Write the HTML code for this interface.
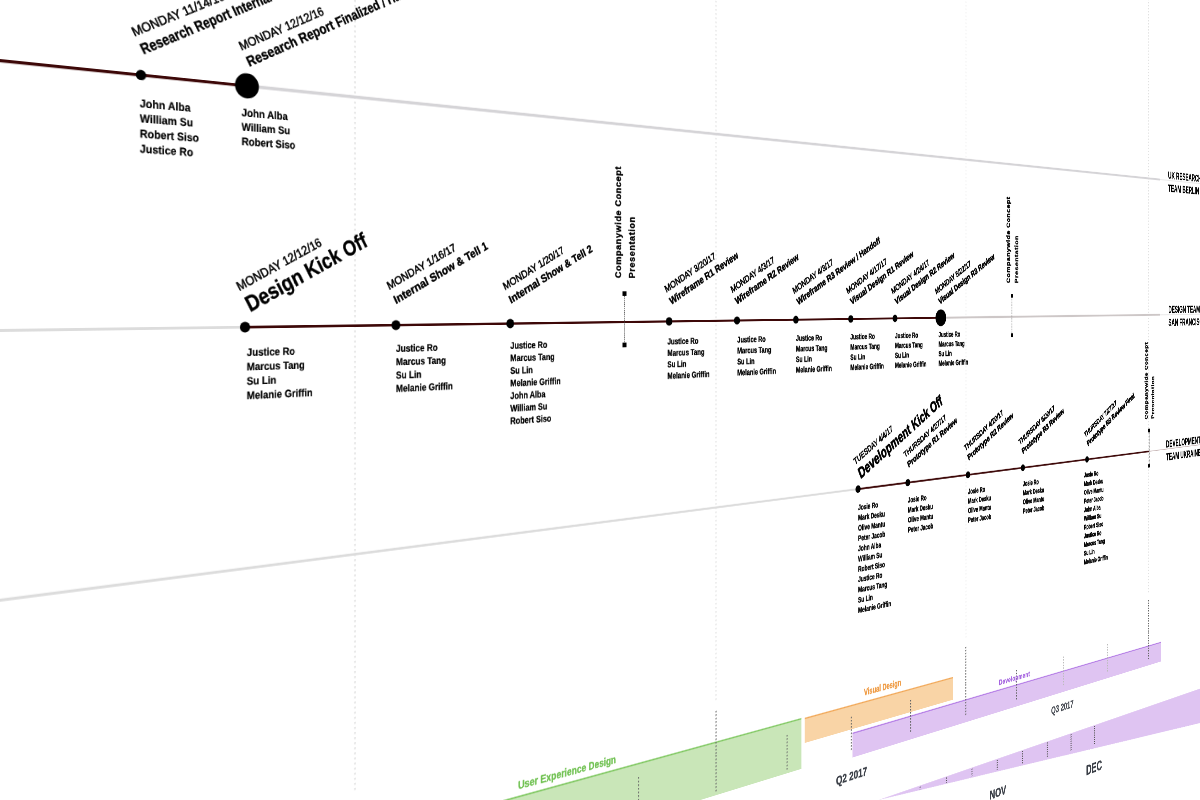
<!DOCTYPE html>
<html><head><meta charset="utf-8">
<style>
html,body{margin:0;padding:0;width:1200px;height:800px;overflow:hidden;background:#fff}
#plane{position:absolute;left:0;top:0;width:10px;height:10px;transform-origin:0 0;
transform:matrix3d(1.070000, 0.137604, 0, 0.00046022, 0, 1, 0, 0, 0, 0, 1, 0, 0, 0, 0, 1);}
svg{position:absolute;left:0;top:0;overflow:visible;font-family:"Liberation Sans",sans-serif}
</style></head><body>
<div id="plane">
<svg width="10" height="10">
<line x1="-185.4" y1="-600" x2="-185.4" y2="880" stroke="#d9d9d9" stroke-width="1.6" stroke-dasharray="2.5 3.5"/>
<line x1="391.6" y1="-600" x2="391.6" y2="880" stroke="#d9d9d9" stroke-width="1.6" stroke-dasharray="2.5 3.5"/>
<line x1="966.9" y1="-600" x2="966.9" y2="880" stroke="#d9d9d9" stroke-width="1.6" stroke-dasharray="2.5 3.5"/>
<line x1="1544.5" y1="-600" x2="1544.5" y2="880" stroke="#d9d9d9" stroke-width="1.6" stroke-dasharray="2.5 3.5"/>
<line x1="2121.5" y1="-600" x2="2121.5" y2="880" stroke="#d9d9d9" stroke-width="1.6" stroke-dasharray="2.5 3.5"/>
<line x1="-700.0" y1="60.6" x2="258.0" y2="60.6" stroke="#3d0808" stroke-width="3.2"/>
<line x1="258.0" y1="60.6" x2="2163.0" y2="60.6" stroke="#d5d4d7" stroke-width="3.6"/>
<line x1="2163.0" y1="60.6" x2="2600.0" y2="60.6" stroke="#e9e9e9" stroke-width="2.0"/>
<line x1="-700.0" y1="330.5" x2="256.0" y2="330.5" stroke="#dcdcdc" stroke-width="3.0"/>
<line x1="256.0" y1="330.5" x2="1477.0" y2="330.5" stroke="#3d0808" stroke-width="3.0"/>
<line x1="1477.0" y1="330.5" x2="2163.0" y2="330.5" stroke="#cdc7c7" stroke-width="3.5"/>
<line x1="2163.0" y1="330.5" x2="2600.0" y2="330.5" stroke="#e9e9e9" stroke-width="2.0"/>
<line x1="-700.0" y1="600.2" x2="1271.0" y2="600.2" stroke="#dcdcdc" stroke-width="3.0"/>
<line x1="1271.0" y1="600.2" x2="2123.0" y2="600.2" stroke="#3d0808" stroke-width="3.0"/>
<line x1="2123.0" y1="600.2" x2="2600.0" y2="600.2" stroke="#c9b8b8" stroke-width="1.5"/>
<circle cx="140.3" cy="60.6" r="5.5" fill="#000"/>
<circle cx="258.3" cy="60.6" r="14.0" fill="#000"/>
<circle cx="256.0" cy="330.5" r="6.0" fill="#000"/>
<circle cx="446.0" cy="330.5" r="6.0" fill="#000"/>
<circle cx="611.0" cy="330.5" r="6.0" fill="#000"/>
<circle cx="878.0" cy="330.5" r="6.0" fill="#000"/>
<circle cx="1008.5" cy="330.5" r="6.0" fill="#000"/>
<circle cx="1131.0" cy="330.5" r="6.0" fill="#000"/>
<circle cx="1254.0" cy="330.5" r="6.0" fill="#000"/>
<circle cx="1360.0" cy="330.5" r="6.0" fill="#000"/>
<circle cx="1477.0" cy="330.5" r="14.0" fill="#000"/>
<circle cx="1271.0" cy="600.2" r="6.0" fill="#000"/>
<circle cx="1392.0" cy="600.2" r="6.0" fill="#000"/>
<circle cx="1550.0" cy="600.2" r="6.0" fill="#000"/>
<circle cx="1707.0" cy="600.2" r="6.0" fill="#000"/>
<circle cx="1908.0" cy="600.2" r="6.0" fill="#000"/>
<text transform="translate(139.0 94.9) scale(0.940 1)" style="font-size:12.2px;font-weight:bold;fill:#000;stroke:#000;stroke-width:0.18px" text-anchor="start" >John Alba</text>
<text transform="translate(139.0 111.0) scale(0.940 1)" style="font-size:12.2px;font-weight:bold;fill:#000;stroke:#000;stroke-width:0.18px" text-anchor="start" >William Su</text>
<text transform="translate(139.0 127.1) scale(0.940 1)" style="font-size:12.2px;font-weight:bold;fill:#000;stroke:#000;stroke-width:0.18px" text-anchor="start" >Robert Siso</text>
<text transform="translate(139.0 143.2) scale(0.940 1)" style="font-size:12.2px;font-weight:bold;fill:#000;stroke:#000;stroke-width:0.18px" text-anchor="start" >Justice Ro</text>
<text transform="translate(252.0 94.9) scale(0.940 1)" style="font-size:12.2px;font-weight:bold;fill:#000;stroke:#000;stroke-width:0.21px" text-anchor="start" >John Alba</text>
<text transform="translate(252.0 111.0) scale(0.940 1)" style="font-size:12.2px;font-weight:bold;fill:#000;stroke:#000;stroke-width:0.21px" text-anchor="start" >William Su</text>
<text transform="translate(252.0 127.1) scale(0.940 1)" style="font-size:12.2px;font-weight:bold;fill:#000;stroke:#000;stroke-width:0.21px" text-anchor="start" >Robert Siso</text>
<text transform="translate(258.0 362.8) scale(0.940 1)" style="font-size:12.2px;font-weight:bold;fill:#000;stroke:#000;stroke-width:0.21px" text-anchor="start" >Justice Ro</text>
<text transform="translate(258.0 378.9) scale(0.940 1)" style="font-size:12.2px;font-weight:bold;fill:#000;stroke:#000;stroke-width:0.21px" text-anchor="start" >Marcus Tang</text>
<text transform="translate(258.0 395.0) scale(0.940 1)" style="font-size:12.2px;font-weight:bold;fill:#000;stroke:#000;stroke-width:0.21px" text-anchor="start" >Su Lin</text>
<text transform="translate(258.0 411.1) scale(0.940 1)" style="font-size:12.2px;font-weight:bold;fill:#000;stroke:#000;stroke-width:0.21px" text-anchor="start" >Melanie Griffin</text>
<text transform="translate(446.0 362.8) scale(0.940 1)" style="font-size:12.2px;font-weight:bold;fill:#000;stroke:#000;stroke-width:0.26px" text-anchor="start" >Justice Ro</text>
<text transform="translate(446.0 378.9) scale(0.940 1)" style="font-size:12.2px;font-weight:bold;fill:#000;stroke:#000;stroke-width:0.26px" text-anchor="start" >Marcus Tang</text>
<text transform="translate(446.0 395.0) scale(0.940 1)" style="font-size:12.2px;font-weight:bold;fill:#000;stroke:#000;stroke-width:0.26px" text-anchor="start" >Su Lin</text>
<text transform="translate(446.0 411.1) scale(0.940 1)" style="font-size:12.2px;font-weight:bold;fill:#000;stroke:#000;stroke-width:0.26px" text-anchor="start" >Melanie Griffin</text>
<text transform="translate(611.0 362.8) scale(0.940 1)" style="font-size:12.2px;font-weight:bold;fill:#000;stroke:#000;stroke-width:0.30px" text-anchor="start" >Justice Ro</text>
<text transform="translate(611.0 378.9) scale(0.940 1)" style="font-size:12.2px;font-weight:bold;fill:#000;stroke:#000;stroke-width:0.30px" text-anchor="start" >Marcus Tang</text>
<text transform="translate(611.0 395.0) scale(0.940 1)" style="font-size:12.2px;font-weight:bold;fill:#000;stroke:#000;stroke-width:0.30px" text-anchor="start" >Su Lin</text>
<text transform="translate(611.0 411.1) scale(0.940 1)" style="font-size:12.2px;font-weight:bold;fill:#000;stroke:#000;stroke-width:0.30px" text-anchor="start" >Melanie Griffin</text>
<text transform="translate(611.0 427.2) scale(0.940 1)" style="font-size:12.2px;font-weight:bold;fill:#000;stroke:#000;stroke-width:0.30px" text-anchor="start" >John Alba</text>
<text transform="translate(611.0 443.3) scale(0.940 1)" style="font-size:12.2px;font-weight:bold;fill:#000;stroke:#000;stroke-width:0.30px" text-anchor="start" >William Su</text>
<text transform="translate(611.0 459.4) scale(0.940 1)" style="font-size:12.2px;font-weight:bold;fill:#000;stroke:#000;stroke-width:0.30px" text-anchor="start" >Robert Siso</text>
<text transform="translate(875.0 362.8) scale(0.940 1)" style="font-size:12.2px;font-weight:bold;fill:#000;stroke:#000;stroke-width:0.38px" text-anchor="start" >Justice Ro</text>
<text transform="translate(875.0 378.9) scale(0.940 1)" style="font-size:12.2px;font-weight:bold;fill:#000;stroke:#000;stroke-width:0.38px" text-anchor="start" >Marcus Tang</text>
<text transform="translate(875.0 395.0) scale(0.940 1)" style="font-size:12.2px;font-weight:bold;fill:#000;stroke:#000;stroke-width:0.38px" text-anchor="start" >Su Lin</text>
<text transform="translate(875.0 411.1) scale(0.940 1)" style="font-size:12.2px;font-weight:bold;fill:#000;stroke:#000;stroke-width:0.38px" text-anchor="start" >Melanie Griffin</text>
<text transform="translate(1009.0 362.8) scale(0.940 1)" style="font-size:12.2px;font-weight:bold;fill:#000;stroke:#000;stroke-width:0.42px" text-anchor="start" >Justice Ro</text>
<text transform="translate(1009.0 378.9) scale(0.940 1)" style="font-size:12.2px;font-weight:bold;fill:#000;stroke:#000;stroke-width:0.42px" text-anchor="start" >Marcus Tang</text>
<text transform="translate(1009.0 395.0) scale(0.940 1)" style="font-size:12.2px;font-weight:bold;fill:#000;stroke:#000;stroke-width:0.42px" text-anchor="start" >Su Lin</text>
<text transform="translate(1009.0 411.1) scale(0.940 1)" style="font-size:12.2px;font-weight:bold;fill:#000;stroke:#000;stroke-width:0.42px" text-anchor="start" >Melanie Griffin</text>
<text transform="translate(1131.0 362.8) scale(0.940 1)" style="font-size:12.2px;font-weight:bold;fill:#000;stroke:#000;stroke-width:0.46px" text-anchor="start" >Justice Ro</text>
<text transform="translate(1131.0 378.9) scale(0.940 1)" style="font-size:12.2px;font-weight:bold;fill:#000;stroke:#000;stroke-width:0.46px" text-anchor="start" >Marcus Tang</text>
<text transform="translate(1131.0 395.0) scale(0.940 1)" style="font-size:12.2px;font-weight:bold;fill:#000;stroke:#000;stroke-width:0.46px" text-anchor="start" >Su Lin</text>
<text transform="translate(1131.0 411.1) scale(0.940 1)" style="font-size:12.2px;font-weight:bold;fill:#000;stroke:#000;stroke-width:0.46px" text-anchor="start" >Melanie Griffin</text>
<text transform="translate(1253.0 362.8) scale(0.940 1)" style="font-size:12.2px;font-weight:bold;fill:#000;stroke:#000;stroke-width:0.51px" text-anchor="start" >Justice Ro</text>
<text transform="translate(1253.0 378.9) scale(0.940 1)" style="font-size:12.2px;font-weight:bold;fill:#000;stroke:#000;stroke-width:0.51px" text-anchor="start" >Marcus Tang</text>
<text transform="translate(1253.0 395.0) scale(0.940 1)" style="font-size:12.2px;font-weight:bold;fill:#000;stroke:#000;stroke-width:0.51px" text-anchor="start" >Su Lin</text>
<text transform="translate(1253.0 411.1) scale(0.940 1)" style="font-size:12.2px;font-weight:bold;fill:#000;stroke:#000;stroke-width:0.51px" text-anchor="start" >Melanie Griffin</text>
<text transform="translate(1360.0 362.8) scale(0.940 1)" style="font-size:12.2px;font-weight:bold;fill:#000;stroke:#000;stroke-width:0.54px" text-anchor="start" >Justice Ro</text>
<text transform="translate(1360.0 378.9) scale(0.940 1)" style="font-size:12.2px;font-weight:bold;fill:#000;stroke:#000;stroke-width:0.54px" text-anchor="start" >Marcus Tang</text>
<text transform="translate(1360.0 395.0) scale(0.940 1)" style="font-size:12.2px;font-weight:bold;fill:#000;stroke:#000;stroke-width:0.54px" text-anchor="start" >Su Lin</text>
<text transform="translate(1360.0 411.1) scale(0.940 1)" style="font-size:12.2px;font-weight:bold;fill:#000;stroke:#000;stroke-width:0.54px" text-anchor="start" >Melanie Griffin</text>
<text transform="translate(1471.0 362.8) scale(0.940 1)" style="font-size:12.2px;font-weight:bold;fill:#000;stroke:#000;stroke-width:0.58px" text-anchor="start" >Justice Ro</text>
<text transform="translate(1471.0 378.9) scale(0.940 1)" style="font-size:12.2px;font-weight:bold;fill:#000;stroke:#000;stroke-width:0.58px" text-anchor="start" >Marcus Tang</text>
<text transform="translate(1471.0 395.0) scale(0.940 1)" style="font-size:12.2px;font-weight:bold;fill:#000;stroke:#000;stroke-width:0.58px" text-anchor="start" >Su Lin</text>
<text transform="translate(1471.0 411.1) scale(0.940 1)" style="font-size:12.2px;font-weight:bold;fill:#000;stroke:#000;stroke-width:0.58px" text-anchor="start" >Melanie Griffin</text>
<text transform="translate(1271.0 633.7) scale(0.940 1)" style="font-size:12.2px;font-weight:bold;fill:#000;stroke:#000;stroke-width:0.51px" text-anchor="start" >Josie Ro</text>
<text transform="translate(1271.0 650.0) scale(0.940 1)" style="font-size:12.2px;font-weight:bold;fill:#000;stroke:#000;stroke-width:0.51px" text-anchor="start" >Mark Desku</text>
<text transform="translate(1271.0 666.3) scale(0.940 1)" style="font-size:12.2px;font-weight:bold;fill:#000;stroke:#000;stroke-width:0.51px" text-anchor="start" >Olive Mantu</text>
<text transform="translate(1271.0 682.6) scale(0.940 1)" style="font-size:12.2px;font-weight:bold;fill:#000;stroke:#000;stroke-width:0.51px" text-anchor="start" >Peter Jacob</text>
<text transform="translate(1271.0 698.9) scale(0.940 1)" style="font-size:12.2px;font-weight:bold;fill:#000;stroke:#000;stroke-width:0.51px" text-anchor="start" >John Alba</text>
<text transform="translate(1271.0 715.2) scale(0.940 1)" style="font-size:12.2px;font-weight:bold;fill:#000;stroke:#000;stroke-width:0.51px" text-anchor="start" >William Su</text>
<text transform="translate(1271.0 731.5) scale(0.940 1)" style="font-size:12.2px;font-weight:bold;fill:#000;stroke:#000;stroke-width:0.51px" text-anchor="start" >Robert Siso</text>
<text transform="translate(1271.0 747.8) scale(0.940 1)" style="font-size:12.2px;font-weight:bold;fill:#000;stroke:#000;stroke-width:0.51px" text-anchor="start" >Justice Ro</text>
<text transform="translate(1271.0 764.1) scale(0.940 1)" style="font-size:12.2px;font-weight:bold;fill:#000;stroke:#000;stroke-width:0.51px" text-anchor="start" >Marcus Tang</text>
<text transform="translate(1271.0 780.4) scale(0.940 1)" style="font-size:12.2px;font-weight:bold;fill:#000;stroke:#000;stroke-width:0.51px" text-anchor="start" >Su Lin</text>
<text transform="translate(1271.0 796.7) scale(0.940 1)" style="font-size:12.2px;font-weight:bold;fill:#000;stroke:#000;stroke-width:0.51px" text-anchor="start" >Melanie Griffin</text>
<text transform="translate(1392.0 633.2) scale(0.940 1)" style="font-size:12.2px;font-weight:bold;fill:#000;stroke:#000;stroke-width:0.56px" text-anchor="start" >Josie Ro</text>
<text transform="translate(1392.0 649.5) scale(0.940 1)" style="font-size:12.2px;font-weight:bold;fill:#000;stroke:#000;stroke-width:0.56px" text-anchor="start" >Mark Desku</text>
<text transform="translate(1392.0 665.8) scale(0.940 1)" style="font-size:12.2px;font-weight:bold;fill:#000;stroke:#000;stroke-width:0.56px" text-anchor="start" >Olive Mantu</text>
<text transform="translate(1392.0 682.1) scale(0.940 1)" style="font-size:12.2px;font-weight:bold;fill:#000;stroke:#000;stroke-width:0.56px" text-anchor="start" >Peter Jacob</text>
<text transform="translate(1550.0 633.2) scale(0.940 1)" style="font-size:12.2px;font-weight:bold;fill:#000;stroke:#000;stroke-width:0.61px" text-anchor="start" >Josie Ro</text>
<text transform="translate(1550.0 649.5) scale(0.940 1)" style="font-size:12.2px;font-weight:bold;fill:#000;stroke:#000;stroke-width:0.61px" text-anchor="start" >Mark Desku</text>
<text transform="translate(1550.0 665.8) scale(0.940 1)" style="font-size:12.2px;font-weight:bold;fill:#000;stroke:#000;stroke-width:0.61px" text-anchor="start" >Olive Mantu</text>
<text transform="translate(1550.0 682.1) scale(0.940 1)" style="font-size:12.2px;font-weight:bold;fill:#000;stroke:#000;stroke-width:0.61px" text-anchor="start" >Peter Jacob</text>
<text transform="translate(1707.0 633.2) scale(0.940 1)" style="font-size:12.2px;font-weight:bold;fill:#000;stroke:#000;stroke-width:0.68px" text-anchor="start" >Josie Ro</text>
<text transform="translate(1707.0 649.5) scale(0.940 1)" style="font-size:12.2px;font-weight:bold;fill:#000;stroke:#000;stroke-width:0.68px" text-anchor="start" >Mark Desku</text>
<text transform="translate(1707.0 665.8) scale(0.940 1)" style="font-size:12.2px;font-weight:bold;fill:#000;stroke:#000;stroke-width:0.68px" text-anchor="start" >Olive Mantu</text>
<text transform="translate(1707.0 682.1) scale(0.940 1)" style="font-size:12.2px;font-weight:bold;fill:#000;stroke:#000;stroke-width:0.68px" text-anchor="start" >Peter Jacob</text>
<text transform="translate(1898.0 633.2) scale(0.940 1)" style="font-size:12.2px;font-weight:bold;fill:#000;stroke:#000;stroke-width:0.75px" text-anchor="start" >Josie Ro</text>
<text transform="translate(1898.0 649.5) scale(0.940 1)" style="font-size:12.2px;font-weight:bold;fill:#000;stroke:#000;stroke-width:0.75px" text-anchor="start" >Mark Desku</text>
<text transform="translate(1898.0 665.8) scale(0.940 1)" style="font-size:12.2px;font-weight:bold;fill:#000;stroke:#000;stroke-width:0.75px" text-anchor="start" >Olive Mantu</text>
<text transform="translate(1898.0 682.1) scale(0.940 1)" style="font-size:12.2px;font-weight:bold;fill:#000;stroke:#000;stroke-width:0.75px" text-anchor="start" >Peter Jacob</text>
<text transform="translate(1898.0 698.4) scale(0.940 1)" style="font-size:12.2px;font-weight:bold;fill:#000;stroke:#000;stroke-width:0.75px" text-anchor="start" >John Alba</text>
<text transform="translate(1898.0 714.7) scale(0.940 1)" style="font-size:12.2px;font-weight:bold;fill:#000;stroke:#000;stroke-width:0.75px" text-anchor="start" >William Su</text>
<text transform="translate(1898.0 731.0) scale(0.940 1)" style="font-size:12.2px;font-weight:bold;fill:#000;stroke:#000;stroke-width:0.75px" text-anchor="start" >Robert Siso</text>
<text transform="translate(1898.0 747.3) scale(0.940 1)" style="font-size:12.2px;font-weight:bold;fill:#000;stroke:#000;stroke-width:0.75px" text-anchor="start" >Justice Ro</text>
<text transform="translate(1898.0 763.6) scale(0.940 1)" style="font-size:12.2px;font-weight:bold;fill:#000;stroke:#000;stroke-width:0.75px" text-anchor="start" >Marcus Tang</text>
<text transform="translate(1898.0 779.9) scale(0.940 1)" style="font-size:12.2px;font-weight:bold;fill:#000;stroke:#000;stroke-width:0.75px" text-anchor="start" >Su Lin</text>
<text transform="translate(1898.0 796.2) scale(0.940 1)" style="font-size:12.2px;font-weight:bold;fill:#000;stroke:#000;stroke-width:0.75px" text-anchor="start" >Melanie Griffin</text>
<text transform="translate(133.4 20.4) rotate(-28.0)" style="font-size:13.5px;font-weight:normal;fill:#000;stroke:#000;stroke-width:0.49px" text-anchor="start" >MONDAY 11/14/16</text>
<text transform="translate(143.0 38.5) rotate(-28.0) scale(0.870 1)" style="font-size:16.0px;font-weight:bold;fill:#000;stroke:#000;stroke-width:0.35px" text-anchor="start" >Research Report Internal Review</text>
<text transform="translate(251.8 21.8) rotate(-28.0)" style="font-size:13.5px;font-weight:normal;fill:#000;stroke:#000;stroke-width:0.53px" text-anchor="start" >MONDAY 12/12/16</text>
<text transform="translate(261.0 39.0) rotate(-28.0) scale(0.930 1)" style="font-size:16.0px;font-weight:bold;fill:#000;stroke:#000;stroke-width:0.39px" text-anchor="start" >Research Report Finalized / Handoff</text>
<text transform="translate(249.3 290.2) rotate(-28.0) scale(0.930 1)" style="font-size:14.5px;font-weight:normal;fill:#000;stroke:#000;stroke-width:0.53px" text-anchor="start" >MONDAY 12/12/16</text>
<text transform="translate(262.0 314.0) rotate(-28.0) scale(0.880 1)" style="font-size:25.5px;font-weight:bold;fill:#000;stroke:#000;stroke-width:0.44px" text-anchor="start" >Design Kick Off</text>
<text transform="translate(436.8 288.1) rotate(-28.0)" style="font-size:13.5px;font-weight:normal;fill:#000;stroke:#000;stroke-width:0.60px" text-anchor="start" >MONDAY 1/16/17</text>
<text transform="translate(446.0 305.3) rotate(-28.0)" style="font-size:14.5px;font-weight:bold;fill:#000;stroke:#000;stroke-width:0.46px" text-anchor="start" >Internal Show &amp; Tell 1</text>
<text transform="translate(602.8 287.8) rotate(-28.0)" style="font-size:13.5px;font-weight:normal;fill:#000;stroke:#000;stroke-width:0.66px" text-anchor="start" >MONDAY 1/20/17</text>
<text transform="translate(612.0 305.0) rotate(-28.0)" style="font-size:14.5px;font-weight:bold;fill:#000;stroke:#000;stroke-width:0.53px" text-anchor="start" >Internal Show &amp; Tell 2</text>
<text transform="translate(872.8 290.1) rotate(-28.0)" style="font-size:13.5px;font-weight:normal;fill:#000;stroke:#000;stroke-width:0.77px" text-anchor="start" >MONDAY 3/20/17</text>
<text transform="translate(882.0 307.3) rotate(-28.0)" style="font-size:14.5px;font-weight:bold;fill:#000;stroke:#000;stroke-width:0.65px" text-anchor="start" >Wireframe R1 Review</text>
<text transform="translate(998.8 290.1) rotate(-28.0)" style="font-size:13.5px;font-weight:normal;fill:#000;stroke:#000;stroke-width:0.83px" text-anchor="start" >MONDAY 4/3/17</text>
<text transform="translate(1008.0 307.3) rotate(-28.0)" style="font-size:14.5px;font-weight:bold;fill:#000;stroke:#000;stroke-width:0.71px" text-anchor="start" >Wireframe R2 Review</text>
<text transform="translate(1126.8 291.3) rotate(-28.0)" style="font-size:13.5px;font-weight:normal;fill:#000;stroke:#000;stroke-width:0.89px" text-anchor="start" >MONDAY 4/3/17</text>
<text transform="translate(1136.0 308.5) rotate(-28.0)" style="font-size:14.5px;font-weight:bold;fill:#000;stroke:#000;stroke-width:0.77px" text-anchor="start" >Wireframe R3 Review / Handoff</text>
<text transform="translate(1246.8 291.3) rotate(-28.0)" style="font-size:13.5px;font-weight:normal;fill:#000;stroke:#000;stroke-width:0.95px" text-anchor="start" >MONDAY 4/17/17</text>
<text transform="translate(1256.0 308.5) rotate(-28.0)" style="font-size:14.5px;font-weight:bold;fill:#000;stroke:#000;stroke-width:0.84px" text-anchor="start" >Visual Design R1 Review</text>
<text transform="translate(1353.8 291.3) rotate(-28.0)" style="font-size:13.5px;font-weight:normal;fill:#000;stroke:#000;stroke-width:1.00px" text-anchor="start" >MONDAY 4/24/17</text>
<text transform="translate(1363.0 308.5) rotate(-28.0)" style="font-size:14.5px;font-weight:bold;fill:#000;stroke:#000;stroke-width:0.89px" text-anchor="start" >Visual Design R2 Review</text>
<text transform="translate(1464.8 291.3) rotate(-28.0)" style="font-size:13.5px;font-weight:normal;fill:#000;stroke:#000;stroke-width:1.06px" text-anchor="start" >MONDAY 5/22/17</text>
<text transform="translate(1474.0 308.5) rotate(-28.0)" style="font-size:14.5px;font-weight:bold;fill:#000;stroke:#000;stroke-width:0.95px" text-anchor="start" >Visual Design R3 Review</text>
<text transform="translate(1264.3 561.2) rotate(-28.0) scale(0.930 1)" style="font-size:14.5px;font-weight:normal;fill:#000;stroke:#000;stroke-width:0.95px" text-anchor="start" >TUESDAY 4/4/17</text>
<text transform="translate(1277.0 585.0) rotate(-28.0) scale(0.880 1)" style="font-size:25.5px;font-weight:bold;fill:#000;stroke:#000;stroke-width:1.10px" text-anchor="start" >Development Kick Off</text>
<text transform="translate(1384.8 558.8) rotate(-28.0)" style="font-size:13.5px;font-weight:normal;fill:#000;stroke:#000;stroke-width:1.01px" text-anchor="start" >THURSDAY 4/27/17</text>
<text transform="translate(1394.0 576.0) rotate(-28.0)" style="font-size:14.5px;font-weight:bold;fill:#000;stroke:#000;stroke-width:0.91px" text-anchor="start" >Prototype R1 Review</text>
<text transform="translate(1542.8 558.8) rotate(-28.0)" style="font-size:13.5px;font-weight:normal;fill:#000;stroke:#000;stroke-width:1.10px" text-anchor="start" >THURSDAY 4/20/17</text>
<text transform="translate(1552.0 576.0) rotate(-28.0)" style="font-size:14.5px;font-weight:bold;fill:#000;stroke:#000;stroke-width:1.00px" text-anchor="start" >Prototype R2 Review</text>
<text transform="translate(1697.8 558.8) rotate(-28.0)" style="font-size:13.5px;font-weight:normal;fill:#000;stroke:#000;stroke-width:1.18px" text-anchor="start" >THURSDAY 6/20/17</text>
<text transform="translate(1707.0 576.0) rotate(-28.0)" style="font-size:14.5px;font-weight:bold;fill:#000;stroke:#000;stroke-width:1.09px" text-anchor="start" >Prototype R3 Review</text>
<text transform="translate(1901.8 558.8) rotate(-28.0)" style="font-size:13.5px;font-weight:normal;fill:#000;stroke:#000;stroke-width:1.30px" text-anchor="start" >THURSDAY 7/27/17</text>
<text transform="translate(1911.0 576.0) rotate(-28.0)" style="font-size:14.5px;font-weight:bold;fill:#000;stroke:#000;stroke-width:1.21px" text-anchor="start" >Prototype R3 Review Final</text>
<text transform="translate(792.0 270.5) rotate(-90.0) scale(0.880 1)" style="font-size:14.0px;font-weight:bold;fill:#000;letter-spacing:1.0px;stroke:#000;stroke-width:0.54px" text-anchor="start" >Companywide Concept</text>
<text transform="translate(816.0 270.5) rotate(-90.0) scale(0.880 1)" style="font-size:14.0px;font-weight:bold;fill:#000;letter-spacing:1.0px;stroke:#000;stroke-width:0.55px" text-anchor="start" >Presentation</text>
<line x1="798.0" y1="291.6" x2="798.0" y2="361.9" stroke="#444" stroke-width="1.6" stroke-dasharray="1.6 1.2"/>
<rect x="794.5" y="288.4" width="7.0" height="6.5" fill="#000"/>
<rect x="794.5" y="358.6" width="7.0" height="6.5" fill="#000"/>
<text transform="translate(1668.5 270.7) rotate(-90.0) scale(0.880 1)" style="font-size:14.0px;font-weight:bold;fill:#000;letter-spacing:1.0px;stroke:#000;stroke-width:0.68px" text-anchor="start" >Companywide Concept</text>
<text transform="translate(1692.5 270.7) rotate(-90.0) scale(0.880 1)" style="font-size:14.0px;font-weight:bold;fill:#000;letter-spacing:1.0px;stroke:#000;stroke-width:0.68px" text-anchor="start" >Presentation</text>
<line x1="1674.5" y1="293.3" x2="1674.5" y2="362.9" stroke="#444" stroke-width="1.6" stroke-dasharray="1.6 1.2"/>
<rect x="1671.0" y="290.1" width="7.0" height="6.5" fill="#000"/>
<rect x="1671.0" y="359.6" width="7.0" height="6.5" fill="#000"/>
<text transform="translate(2118.0 536.5) rotate(-90.0) scale(0.880 1)" style="font-size:14.0px;font-weight:bold;fill:#000;letter-spacing:1.0px;stroke:#000;stroke-width:0.76px" text-anchor="start" >Companywide Concept</text>
<text transform="translate(2142.0 536.5) rotate(-90.0) scale(0.880 1)" style="font-size:14.0px;font-weight:bold;fill:#000;letter-spacing:1.0px;stroke:#000;stroke-width:0.77px" text-anchor="start" >Presentation</text>
<line x1="2124.0" y1="559.0" x2="2124.0" y2="628.7" stroke="#444" stroke-width="1.6" stroke-dasharray="1.6 1.2"/>
<rect x="2120.0" y="555.5" width="8.0" height="7.0" fill="#000"/>
<rect x="2120.0" y="625.2" width="8.0" height="7.0" fill="#000"/>
<text transform="translate(2194.0 56.9) scale(0.860 1)" style="font-size:20.5px;font-weight:bold;fill:#000;stroke:#000;stroke-width:0.26px" text-anchor="start" >UK RESEARCH</text>
<text transform="translate(2194.0 82.9) scale(0.860 1)" style="font-size:20.5px;font-weight:bold;fill:#000;stroke:#000;stroke-width:0.26px" text-anchor="start" >TEAM BERLIN</text>
<text transform="translate(2195.0 326.8) scale(0.860 1)" style="font-size:20.5px;font-weight:bold;fill:#000;stroke:#000;stroke-width:0.26px" text-anchor="start" >DESIGN TEAM</text>
<text transform="translate(2195.0 352.8) scale(0.860 1)" style="font-size:20.5px;font-weight:bold;fill:#000;stroke:#000;stroke-width:0.26px" text-anchor="start" >SAN FRANCISCO</text>
<text transform="translate(2186.0 596.5) scale(0.860 1)" style="font-size:20.5px;font-weight:bold;fill:#000;stroke:#000;stroke-width:0.25px" text-anchor="start" >DEVELOPMENT</text>
<text transform="translate(2186.0 622.5) scale(0.860 1)" style="font-size:20.5px;font-weight:bold;fill:#000;stroke:#000;stroke-width:0.25px" text-anchor="start" >TEAM UKRAINE</text>
<polygon points="-200.0,939.5 1143.0,939.5 1143.0,1016.0 -200.0,1016.0" fill="#c9e6b8" />
<line x1="-200.0" y1="939.5" x2="1143.0" y2="939.5" stroke="#7fc760" stroke-width="2.0"/>
<polygon points="1150.0,940.5 1509.0,940.5 1509.0,978.0 1150.0,978.0" fill="#f9d4a6" />
<line x1="1150.0" y1="940.5" x2="1509.0" y2="940.5" stroke="#f1a655" stroke-width="2.0"/>
<polygon points="1258.0,984.8 2167.0,984.8 2167.0,1023.0 1258.0,1023.0" fill="#dfc4f2" />
<line x1="1258.0" y1="984.8" x2="2167.0" y2="984.8" stroke="#b57ee6" stroke-width="2.0"/>
<polygon points="1320.0,1104.3 3000.0,1104.3 3000.0,1224.0 1320.0,1104.3" fill="#dfc4f2" />
<line x1="823.0" y1="958" x2="823.0" y2="1012" stroke="#666" stroke-width="1.71" stroke-dasharray="2.5 2.5"/>
<line x1="967.0" y1="958" x2="967.0" y2="1012" stroke="#666" stroke-width="1.88" stroke-dasharray="2.5 2.5"/>
<line x1="1112.0" y1="958" x2="1112.0" y2="1012" stroke="#666" stroke-width="2.06" stroke-dasharray="2.5 2.5"/>
<line x1="1255.0" y1="958" x2="1255.0" y2="1012" stroke="#666" stroke-width="2.24" stroke-dasharray="2.5 2.5"/>
<line x1="1399.0" y1="958" x2="1399.0" y2="1012" stroke="#666" stroke-width="2.43" stroke-dasharray="2.5 2.5"/>
<line x1="1544.0" y1="958" x2="1544.0" y2="1012" stroke="#666" stroke-width="2.63" stroke-dasharray="2.5 2.5"/>
<line x1="1688.0" y1="958" x2="1688.0" y2="1012" stroke="#666" stroke-width="2.84" stroke-dasharray="2.5 2.5"/>
<line x1="1832.0" y1="958" x2="1832.0" y2="1012" stroke="#bbb" stroke-width="3.06" stroke-dasharray="2.5 2.5"/>
<line x1="1977.0" y1="958" x2="1977.0" y2="1012" stroke="#bbb" stroke-width="3.28" stroke-dasharray="2.5 2.5"/>
<line x1="2121.0" y1="958" x2="2121.0" y2="1012" stroke="#666" stroke-width="3.51" stroke-dasharray="2.5 2.5"/>
<line x1="967.0" y1="894" x2="967.0" y2="958" stroke="#666" stroke-width="1.88" stroke-dasharray="2.5 2.5"/>
<line x1="1544.0" y1="894" x2="1544.0" y2="958" stroke="#666" stroke-width="2.63" stroke-dasharray="2.5 2.5"/>
<line x1="2121.0" y1="894" x2="2121.0" y2="958" stroke="#666" stroke-width="3.51" stroke-dasharray="2.5 2.5"/>
<line x1="1423.0" y1="1106" x2="1423.0" y2="1110.6" stroke="#555" stroke-width="2.46" stroke-dasharray="2 2"/>
<line x1="1492.0" y1="1106" x2="1492.0" y2="1114.7" stroke="#555" stroke-width="2.56" stroke-dasharray="2 2"/>
<line x1="1561.0" y1="1106" x2="1561.0" y2="1118.9" stroke="#555" stroke-width="2.66" stroke-dasharray="2 2"/>
<line x1="1632.0" y1="1106" x2="1632.0" y2="1123.2" stroke="#555" stroke-width="2.76" stroke-dasharray="2 2"/>
<line x1="1706.0" y1="1106" x2="1706.0" y2="1127.7" stroke="#555" stroke-width="2.87" stroke-dasharray="2 2"/>
<line x1="1781.0" y1="1106" x2="1781.0" y2="1132.3" stroke="#555" stroke-width="2.98" stroke-dasharray="2 2"/>
<line x1="1856.0" y1="1106" x2="1856.0" y2="1136.8" stroke="#555" stroke-width="3.09" stroke-dasharray="2 2"/>
<line x1="1933.0" y1="1106" x2="1933.0" y2="1141.5" stroke="#555" stroke-width="3.21" stroke-dasharray="2 2"/>
<text transform="translate(623.0 929.5)" style="font-size:14.0px;font-weight:bold;fill:#72c254;stroke:#72c254;stroke-width:0.38px" text-anchor="start" >User Experience Design</text>
<text transform="translate(1285.0 930.0)" style="font-size:13.8px;font-weight:bold;fill:#ef9c45;stroke:#ef9c45;stroke-width:0.47px" text-anchor="start" >Visual Design</text>
<text transform="translate(1637.0 976.0)" style="font-size:13.5px;font-weight:bold;fill:#a665e0;letter-spacing:0.6px;stroke:#a665e0;stroke-width:0.40px" text-anchor="start" >Development</text>
<text transform="translate(1220.0 1058.0)" style="font-size:18.8px;font-weight:bold;fill:#3c4048;stroke:#3c4048;stroke-width:0.57px" text-anchor="start" >Q2 2017</text>
<text transform="translate(1793.0 1057.0)" style="font-size:18.5px;font-weight:bold;fill:#4a4e56;stroke:#4a4e56;stroke-width:0.30px" text-anchor="start" >Q3 2017</text>
<text transform="translate(1610.0 1171.0)" style="font-size:22.0px;font-weight:bold;fill:#3c4048;stroke:#3c4048;stroke-width:0.60px" text-anchor="start" >NOV</text>
<text transform="translate(1905.0 1193.0)" style="font-size:25.0px;font-weight:bold;fill:#3c4048;stroke:#3c4048;stroke-width:0.62px" text-anchor="start" >DEC</text>
</svg>
</div>
</body></html>
